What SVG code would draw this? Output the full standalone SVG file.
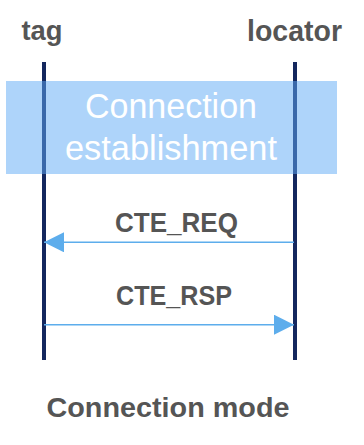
<svg xmlns="http://www.w3.org/2000/svg" width="364" height="445" viewBox="0 0 364 445">
  <style>
    .lbl { font-family: "Liberation Sans", Arial, sans-serif; font-weight: bold; fill: #555555; }
    .life { stroke: #14275E; stroke-width: 4; }
    .msg { stroke: #5DADEC; stroke-width: 1.4; fill: none; }
    .phase { font-family: "Liberation Sans", Arial, sans-serif; fill: #FFFFFF; font-size: 34.5px; }
  </style>
  <defs>
    <marker id="arrow" viewBox="0 0 20 20" refX="20" refY="10" markerWidth="20" markerHeight="20" markerUnits="userSpaceOnUse" orient="auto">
      <path d="M0,0 L20,10 L0,20 Z" fill="#5DADEC"/>
    </marker>
  </defs>

  <!-- participants -->
  <g id="tag">
    <text class="lbl" x="42" y="40" font-size="28" text-anchor="middle" textLength="41" lengthAdjust="spacingAndGlyphs">tag</text>
    <line class="life" x1="44" y1="62" x2="44" y2="360"/>
  </g>
  <g id="locator">
    <text class="lbl" x="294.5" y="40.5" font-size="29" text-anchor="middle" textLength="95" lengthAdjust="spacingAndGlyphs">locator</text>
    <line class="life" x1="295" y1="62" x2="295" y2="360"/>
  </g>

  <!-- connection establishment phase -->
  <g id="establishment">
    <rect x="6" y="81" width="331" height="93" fill="#5DA9F6" fill-opacity="0.5"/>
    <text class="phase" x="171" y="118" text-anchor="middle" textLength="172" lengthAdjust="spacingAndGlyphs">Connection</text>
    <text class="phase" x="171" y="160" text-anchor="middle" textLength="212" lengthAdjust="spacingAndGlyphs">establishment</text>
  </g>

  <!-- messages -->
  <g id="connectors">
    <line class="msg" x1="294" y1="242.3" x2="44" y2="242.3" marker-end="url(#arrow)"/>
    <line class="msg" x1="44" y1="324.7" x2="294" y2="324.7" marker-end="url(#arrow)"/>
    <text class="lbl" x="176.5" y="231.5" font-size="28.5" text-anchor="middle" textLength="123" lengthAdjust="spacingAndGlyphs">CTE_REQ</text>
    <text class="lbl" x="174" y="305" font-size="28.5" text-anchor="middle" textLength="116" lengthAdjust="spacingAndGlyphs">CTE_RSP</text>
  </g>

  <text class="lbl" x="168" y="416.5" font-size="28" text-anchor="middle" textLength="243" lengthAdjust="spacingAndGlyphs">Connection mode</text>
</svg>
